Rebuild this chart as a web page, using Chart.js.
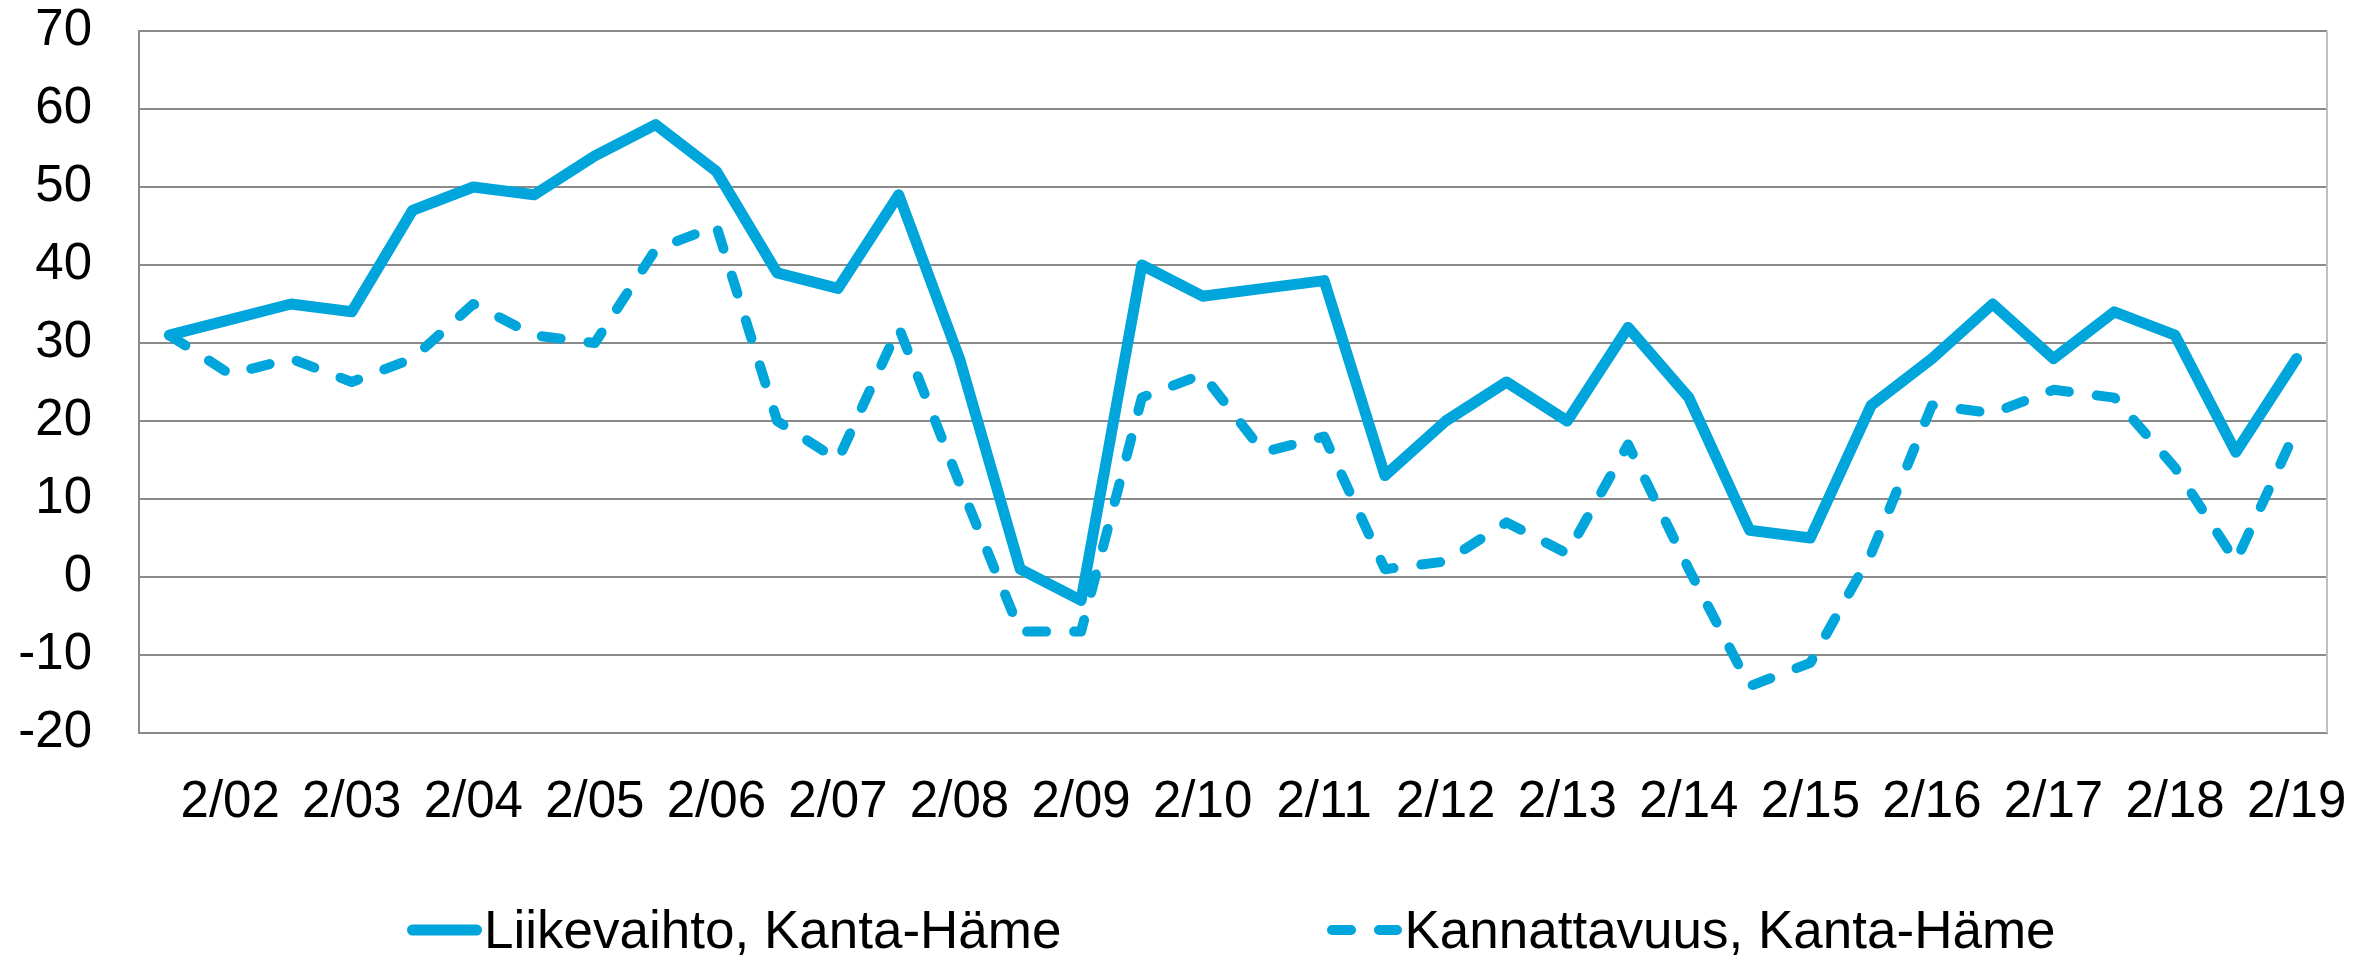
<!DOCTYPE html>
<html>
<head>
<meta charset="utf-8">
<title>Liikevaihto ja kannattavuus, Kanta-Häme</title>
<script src="https://cdn.jsdelivr.net/npm/chart.js@4.4.1/dist/chart.umd.min.js"></script>
<style>
  body { margin: 0; background: #fff; }
  #wrap { position: relative; width: 2377px; height: 961px; }
  #legend {
    position: absolute; left: 407px; top: 900px;
    display: flex; align-items: center; gap: 266px;
    font-family: 'Liberation Sans', Arial, sans-serif; font-size: 53px;
    line-height: 60px; color: #000;
  }
  .item { display: flex; align-items: center; white-space: nowrap; }
  .item svg { display: block; margin-right: 2px; }
</style>
</head>
<body>
<div id="wrap">
  <canvas id="chart" width="2377" height="961"></canvas>
  <div id="legend"></div>
</div>
<script>
// half-year periods, only the autumn ones (2/xx) get a label
const periods = [
  '1/02', '2/02', '1/03', '2/03', '1/04', '2/04', '1/05', '2/05', '1/06', '2/06',
  '1/07', '2/07', '1/08', '2/08', '1/09', '2/09', '1/10', '2/10', '1/11', '2/11',
  '1/12', '2/12', '1/13', '2/13', '1/14', '2/14', '1/15', '2/15', '1/16', '2/16',
  '1/17', '2/17', '1/18', '2/18', '1/19', '2/19'
];

const liikevaihto = [
  31, 33, 35, 34, 47, 50, 49, 54, 58, 52,
  39, 37, 49, 28, 1, -3, 40, 36, 37, 38,
  13, 20, 25, 20, 32, 23, 6, 5, 22, 28,
  35, 28, 34, 31, 16, 28
];

const kannattavuus = [
  31, 26, 28, 25, 28, 35, 31, 30, 42, 45,
  20, 15, 32, 12, -7, -7, 23, 26, 16, 18,
  1, 2, 7, 3, 17, 1, -14, -11, 3, 22,
  21, 24, 23, 14, 2, 19
];

const seriesNames = ['Liikevaihto, Kanta-Häme', 'Kannattavuus, Kanta-Häme'];

const blue = '#00a5db';
const gridGray = '#8a8a8a';
const fontFamily = "'Liberation Sans', Arial, sans-serif";

// right edge of the plot frame
const frameBorder = {
  id: 'frameBorder',
  beforeDatasetsDraw(chart) {
    const ctx = chart.ctx;
    const a = chart.chartArea;
    ctx.save();
    ctx.strokeStyle = '#bfbfbf';
    ctx.lineWidth = 2;
    ctx.beginPath();
    ctx.moveTo(a.right, a.top);
    ctx.lineTo(a.right, a.bottom);
    ctx.stroke();
    ctx.restore();
  }
};

// legend built as html from the chart's own legend items
const htmlLegend = {
  id: 'htmlLegend',
  afterUpdate(chart) {
    const box = document.getElementById('legend');
    box.innerHTML = '';
    const items = chart.options.plugins.legend.labels.generateLabels(chart)
      .sort((a, b) => a.datasetIndex - b.datasetIndex);
    items.forEach(item => {
      const w = item.lineWidth;
      const el = document.createElement('div');
      el.className = 'item';
      const dash = (item.lineDash && item.lineDash.length) ? `stroke-dasharray="${item.lineDash.join(' ')}"` : '';
      el.innerHTML = `
        <svg width="75" height="14" viewBox="0 0 75 14">
          <line x1="${w / 2}" y1="7" x2="${75 - w / 2}" y2="7" stroke="${item.strokeStyle}"
                stroke-width="${w}" stroke-linecap="round" ${dash}></line>
        </svg>
        <span>${item.text}</span>`;
      box.appendChild(el);
    });
  }
};

const ctx = document.getElementById('chart');

new Chart(ctx, {
  type: 'line',
  data: {
    labels: periods,
    datasets: [
      {
        label: seriesNames[0],
        data: liikevaihto,
        borderColor: blue,
        backgroundColor: blue,
        borderWidth: 11,
        borderCapStyle: 'round',
        borderJoinStyle: 'round',
        pointRadius: 0,
        tension: 0
      },
      {
        label: seriesNames[1],
        data: kannattavuus,
        borderColor: blue,
        backgroundColor: blue,
        borderWidth: 10,
        borderDash: [19, 28],
        borderCapStyle: 'round',
        borderJoinStyle: 'round',
        pointRadius: 0,
        tension: 0
      }
    ]
  },
  options: {
    responsive: false,
    animation: false,
    layout: {
      padding: { top: 31, right: 50, left: 0, bottom: 120 }
    },
    plugins: {
      legend: { display: false },
      tooltip: { enabled: false }
    },
    scales: {
      x: {
        offset: true,
        grid: { display: false },
        border: { display: true, color: gridGray, width: 2 },
        ticks: {
          autoSkip: false,
          maxRotation: 0,
          padding: 31,
          color: '#000',
          font: { family: fontFamily, size: 51 },
          callback: function(value, index) {
            return index % 2 === 1 ? this.getLabelForValue(value) : '';
          }
        },
        afterFit: function(scale) {
          scale.height = 108;
          scale.paddingLeft = 0;
          scale.paddingRight = 0;
        }
      },
      y: {
        min: -20,
        max: 70,
        grid: { color: gridGray, lineWidth: 2, drawTicks: false },
        border: { display: true, color: gridGray, width: 2 },
        ticks: {
          stepSize: 10,
          padding: 47,
          color: '#000',
          font: { family: fontFamily, size: 51 }
        },
        afterFit: function(scale) {
          scale.width = 139;
          scale.paddingTop = 0;
          scale.paddingBottom = 0;
        }
      }
    }
  },
  plugins: [frameBorder, htmlLegend]
});
</script>
</body>
</html>
